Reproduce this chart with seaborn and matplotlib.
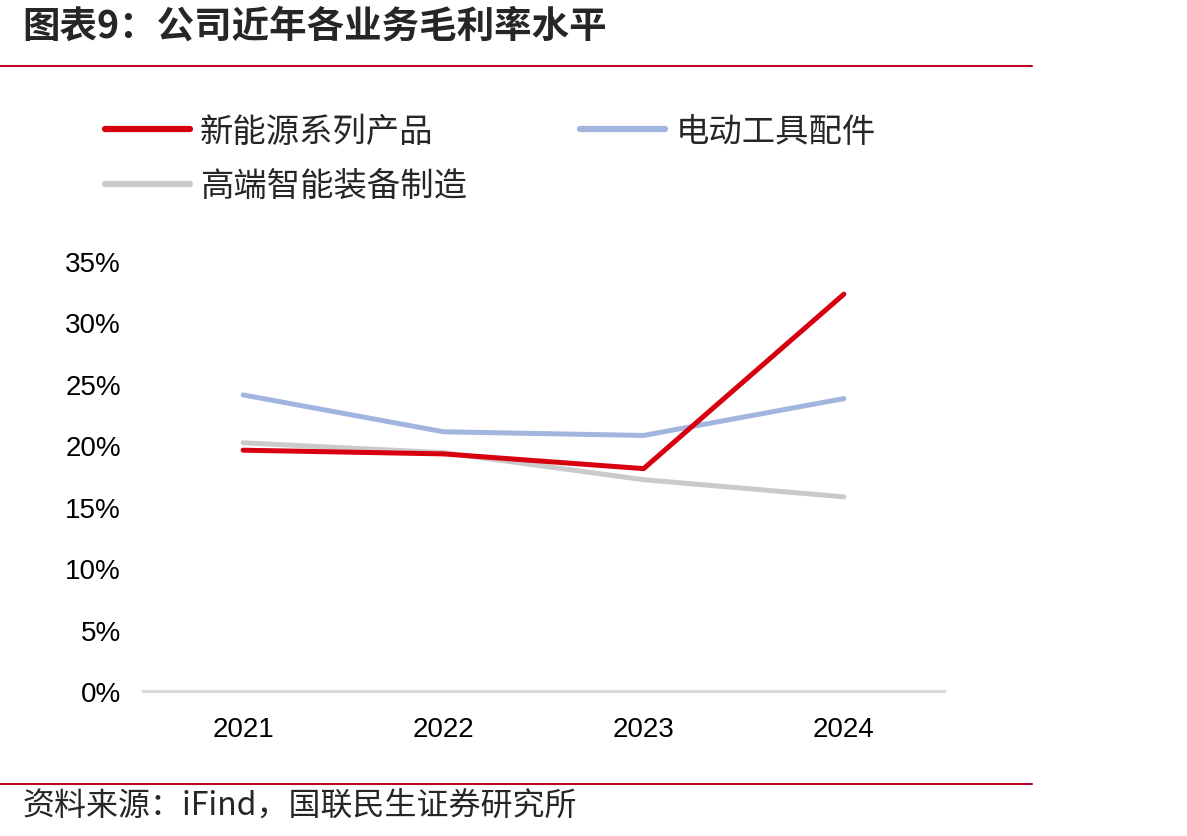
import pandas as pd
import matplotlib.pyplot as plt
import seaborn as sns
from matplotlib.lines import Line2D
from matplotlib.ticker import PercentFormatter, MultipleLocator

years = ["2021", "2022", "2023", "2024"]
new_energy = [19.6, 19.3, 18.1, 32.3]
power_tool = [24.1, 21.1, 20.8, 23.8]
high_end = [20.2, 19.4, 17.2, 15.8]
series_names = ["新能源系列产品", "电动工具配件", "高端智能装备制造"]
series_colors = ["#D7000F", "#A2B5DE", "#CACACA"]

df = pd.DataFrame({
    "year": years * 3,
    "value": new_energy + power_tool + high_end,
    "series": [series_names[0]] * 4 + [series_names[1]] * 4 + [series_names[2]] * 4,
})

sns.set_theme(style="white")
plt.rcParams["font.family"] = ["Noto Sans CJK SC", "DejaVu Sans"]

fig = plt.figure(figsize=(11.87, 8.37), dpi=100)
ax = fig.add_axes([143 / 1187, 1 - 692 / 837, (944 - 143) / 1187, (692 - 262) / 837])

# draw order: gray below, red on top
order = [series_names[2], series_names[1], series_names[0]]
palette = dict(zip(series_names, series_colors))
sns.lineplot(data=df, x="year", y="value", hue="series", hue_order=order,
             palette=palette, linewidth=3.6, legend=False, ax=ax, sort=False)

ax.set_xlim(-0.5, 3.5)
ax.set_ylim(0, 35)
ax.yaxis.set_major_locator(MultipleLocator(5))
ax.yaxis.set_major_formatter(PercentFormatter(decimals=0))
ax.set_xlabel("")
ax.set_ylabel("")
for s in ["top", "right", "left"]:
    ax.spines[s].set_visible(False)
ax.spines["bottom"].set_color("#D9D9D9")
ax.spines["bottom"].set_linewidth(2.2)
ax.tick_params(axis="both", length=0, labelsize=20, colors="black")
ax.tick_params(axis="x", pad=18)
ax.tick_params(axis="y", pad=16)
for lab in ax.get_xticklabels() + ax.get_yticklabels():
    lab.set_family(["Liberation Sans Narrow", "Liberation Sans", "DejaVu Sans"])

# legend: red, gray in first column, blue in second
handles = [Line2D([], [], color=palette[n], linewidth=4.5) for n in
           [series_names[0], series_names[2], series_names[1]]]
labels = [series_names[0], series_names[2], series_names[1]]
fig.legend(handles, labels, loc="upper left", ncol=2, frameon=False,
           bbox_to_anchor=(105 / 1187, 1 - 115 / 837), fontsize=24,
           borderaxespad=0, borderpad=0,
           handlelength=2.55, handletextpad=0.3, columnspacing=3.4,
           labelspacing=0.58)

# title and rules
fig.text(22 / 1187, 1 - 26 / 837, "图表9：公司近年各业务毛利率水平", fontsize=27,
         fontweight="bold", va="center", ha="left")
fig.add_artist(Line2D([0, 1032 / 1187], [1 - 67 / 837] * 2, color="#C0002A", linewidth=1.5))
fig.add_artist(Line2D([0, 1032 / 1187], [1 - 785 / 837] * 2, color="#C0002A", linewidth=1.5))
fig.text(22 / 1187, 1 - 806 / 837, "资料来源：iFind，国联民生证券研究所", fontsize=23,
         va="center", ha="left")

fig.savefig("out.png", dpi=100)
